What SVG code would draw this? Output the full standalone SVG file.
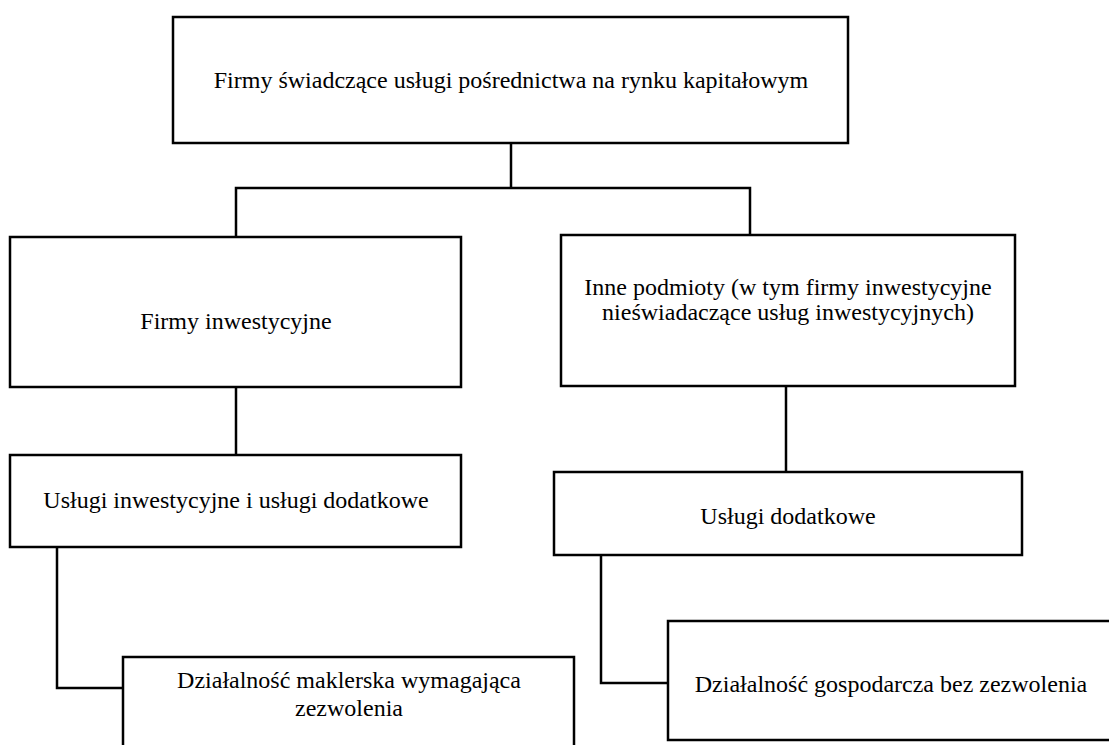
<svg xmlns="http://www.w3.org/2000/svg" width="1109" height="745" viewBox="0 0 1109 745">
  <style>
    .box { fill: #ffffff; stroke: #000000; stroke-width: 2.5; }
    .wire { fill: none; stroke: #000000; stroke-width: 2.5; }
    text { font-family: 'Liberation Serif', 'Times New Roman', Times, serif; font-size: 24px; fill: #000000; text-anchor: middle; }
  </style>
  <rect width="1109" height="745" fill="#ffffff"/>

  <!-- connectors -->
  <g id="connectors">
    <polyline class="wire" points="511,143 511,188"/>
    <polyline class="wire" points="236,237 236,188 750,188 750,235"/>
    <polyline class="wire" points="236,387 236,455"/>
    <polyline class="wire" points="786,386 786,472"/>
    <polyline class="wire" points="57,547 57,688 123,688"/>
    <polyline class="wire" points="601,555 601,683 668,683"/>
  </g>

  <g id="node-root">
    <rect class="box" x="173" y="17" width="675" height="126"/>
    <text x="511" y="88">Firmy świadczące usługi pośrednictwa na rynku kapitałowym</text>
  </g>

  <g id="node-firmy-inwestycyjne">
    <rect class="box" x="10" y="237" width="451" height="150"/>
    <text x="236" y="329">Firmy inwestycyjne</text>
  </g>

  <g id="node-inne-podmioty">
    <rect class="box" x="561" y="235" width="454" height="151"/>
    <text x="788" y="295">Inne podmioty (w tym firmy inwestycyjne</text>
    <text x="788" y="320">nieświadaczące usług inwestycyjnych)</text>
  </g>

  <g id="node-uslugi-inwestycyjne">
    <rect class="box" x="10" y="455" width="451" height="92"/>
    <text x="236" y="508">Usługi inwestycyjne i usługi dodatkowe</text>
  </g>

  <g id="node-uslugi-dodatkowe">
    <rect class="box" x="554" y="472" width="468" height="83"/>
    <text x="788" y="524">Usługi dodatkowe</text>
  </g>

  <g id="node-dzialalnosc-maklerska">
    <rect class="box" x="123" y="657" width="451" height="100"/>
    <text x="349" y="688">Działalność maklerska wymagająca</text>
    <text x="349" y="716">zezwolenia</text>
  </g>

  <g id="node-dzialalnosc-gospodarcza">
    <rect class="box" x="668" y="621" width="460" height="119"/>
    <text x="891" y="692">Działalność gospodarcza bez zezwolenia</text>
  </g>
</svg>
